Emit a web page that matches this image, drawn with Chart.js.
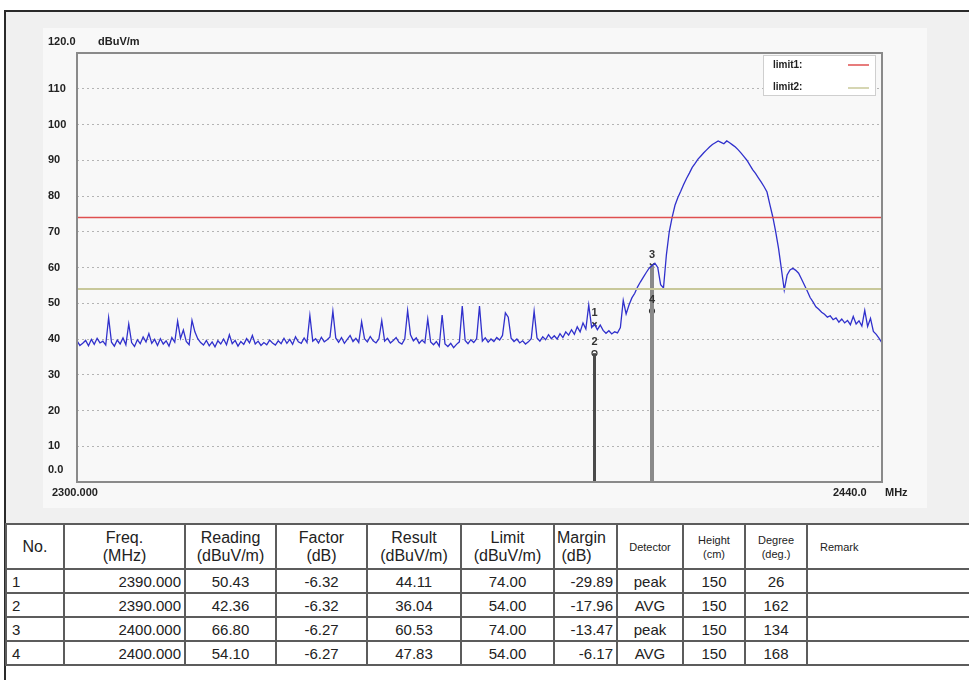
<!DOCTYPE html>
<html lang="en">
<head>
    <meta charset="UTF-8" />
    <title>Radiated Emission - Band Edge</title>
    <script src="https://cdn.jsdelivr.net/npm/chart.js"></script>
    <style>
        html, body {
            margin: 0;
            padding: 0;
            width: 969px;
            height: 680px;
            overflow: hidden;
            background: #fff;
            font-family: Arial, 'Liberation Sans', sans-serif;
        }
        #marco {
            position: absolute;
            left: 4px;
            top: 10px;
            width: 970px;
            height: 680px;
            border-left: 2px solid #2a2a2a;
            border-top: 2px solid #2a2a2a;
            background: linear-gradient(#f0f0f0 0, #f0f0f0 512px, #fff 512px);
        }
        #panel {
            position: absolute;
            left: 43px;
            top: 28px;
            width: 884px;
            height: 480px;
            background: #f8f8f8;
        }
        #tabla {
            position: absolute;
            left: 5px;
            top: 523px;
            width: 1010px;
            background: #fff;
            border-collapse: collapse;
            table-layout: fixed;
            color: #222;
            font-size: 15px;
        }
        #tabla th, #tabla td {
            border: 2px solid #5c5c5c;
            padding: 0;
            height: 22px;
            font-weight: normal;
            white-space: nowrap;
            overflow: hidden;
        }
        #tabla th {
            height: 43px;
            font-size: 16px;
            line-height: 18px;
            vertical-align: middle;
        }
        #tabla th.chico { font-size: 11px; line-height: 14px; }
        .izq { text-align: left; padding-left: 5px !important; }
        .der { text-align: right; padding-right: 3px !important; }
        .cen { text-align: center; }
    </style>
</head>
<body>
    <div id="marco"></div>
    <div id="panel">
        <canvas id="grafico" width="884" height="480"></canvas>
    </div>
    <table id="tabla"></table>

    <script>
        // barrido: 2300 a 2440 MHz, paso 0.5 MHz
        const freqInicio = 2300;
        const freqPaso = 0.5;
        const nivel = [
            39.5, 38.2, 38.8, 39.6, 38.1, 39.9, 38.5, 40.2, 38.9, 39.4,
            38.3, 46.0, 39.1, 38.0, 39.7, 38.6, 40.3, 38.4, 44.2, 39.0,
            37.9, 39.8, 38.7, 40.6, 39.2, 41.5, 38.8, 39.9, 38.2, 40.1,
            38.6, 39.5, 38.0, 40.4, 39.1, 45.0, 40.2, 42.5, 39.3, 38.4,
            45.2, 42.0, 40.1, 39.0, 38.3, 39.6, 38.1, 39.2, 37.8, 39.5,
            38.6, 40.0, 38.4, 41.2, 38.7, 39.6, 38.0, 39.3, 38.5, 40.1,
            38.9, 41.0, 38.6, 39.4, 38.2, 39.0, 38.4, 39.7, 38.9, 38.3,
            39.5, 38.7, 40.2, 38.8, 39.9, 38.5, 40.6, 39.2, 38.8, 40.3,
            39.0,
            46.6, 39.4, 40.1, 38.9, 40.5, 39.2, 39.8, 40.6, 47.8, 40.3,
            39.1, 40.4, 38.8, 39.9, 41.0, 39.3, 40.2, 39.0, 44.8, 40.1,
            39.2, 40.7, 39.5, 38.9, 40.0, 45.1, 39.4, 40.2, 38.9, 39.6,
            40.4, 39.1, 38.6, 40.0, 48.0, 41.2, 39.5, 40.3, 38.8, 39.7,
            38.9, 45.6, 39.2, 38.4, 39.3, 38.0, 46.7, 38.6, 37.9, 38.8,
            37.6, 38.5, 39.2, 49.2, 39.6, 38.7, 39.8, 39.0, 40.1, 49.2,
            39.4, 40.3, 39.1, 40.0, 39.3, 40.4, 39.7, 41.0, 47.3, 46.1,
            40.2, 39.3, 40.0, 38.9, 39.5, 38.6, 39.2, 40.1, 47.8, 40.3,
            39.4, 40.6, 39.8, 41.2, 40.1, 40.9, 40.0, 41.5, 40.4, 42.0,
            41.1, 42.6, 41.3, 43.4, 42.0, 44.5, 42.8, 49.5, 43.2, 44.1,
            42.6, 43.9, 42.4, 41.6, 42.3, 41.4, 42.0, 41.7, 43.2,
            50.8, 47.0, 49.5, 51.5, 52.8, 54.6, 56.0, 57.3, 58.6, 59.8,
            60.5, 61.2, 60.0, 55.2, 54.3,
            63.5, 70.0, 74.0, 77.4, 79.6, 81.3, 83.2, 84.9, 86.4, 88.0,
            89.1, 90.3, 91.2, 92.1, 92.9, 93.7, 94.4, 94.9, 95.4, 95.0,
            94.6, 95.4, 94.9, 94.3, 93.7, 92.9, 92.0, 91.0, 90.0, 88.7,
            87.4, 86.3, 85.1, 83.9, 82.6, 81.1, 77.6, 74.2, 70.1, 65.4,
            59.6, 53.7,
            57.9, 59.3, 59.8, 59.2, 58.4, 56.8, 55.1, 53.4, 51.6, 50.4,
            49.0, 48.3, 47.5, 46.9, 46.1, 46.5, 45.4, 45.9, 44.7, 45.6,
            44.5, 45.2, 44.0, 46.3, 44.2, 45.1, 43.6, 48.0, 43.5, 45.8,
            42.1, 41.3, 40.2, 38.9
        ];
        const limite1 = 74;
        const limite2 = 54;
        const ejeYTicks = [0, 10, 20, 30, 40, 50, 60, 70, 80, 90, 100, 110, 120];

        // marcadores / tabla
        const marcaNo = [1, 2, 3, 4];
        const marcaFreq = [2390.000, 2390.000, 2400.000, 2400.000];
        const lectura = [50.43, 42.36, 66.80, 54.10];
        const factor = [-6.32, -6.32, -6.27, -6.27];
        const resultado = [44.11, 36.04, 60.53, 47.83];
        const limite = [74.00, 54.00, 74.00, 54.00];
        const margen = [-29.89, -17.96, -13.47, -6.17];
        const detector = ['peak', 'AVG', 'peak', 'AVG'];
        const altura = [150, 150, 150, 150];
        const grados = [26, 162, 134, 168];

        const puntos = nivel.map((v, i) => ({ x: freqInicio + i * freqPaso, y: v }));
        const xMin = freqInicio;
        const xMax = freqInicio + (nivel.length - 1) * freqPaso;

        // tabla de resultados
        let html = '<colgroup>' + [58, 121, 91, 91, 94, 93, 63, 66, 62, 62, 209].map(w => `<col style="width:${w}px">`).join('') + '</colgroup>';
        html += '<tr><th class="cen" style="font-size:16px">No.</th><th class="cen">Freq.<br>(MHz)</th><th class="cen">Reading<br>(dBuV/m)</th>' +
            '<th class="cen">Factor<br>(dB)</th><th class="cen">Result<br>(dBuV/m)</th><th class="cen">Limit<br>(dBuV/m)</th>' +
            '<th class="izq" style="padding-left:2px!important">Margin<br>&nbsp;(dB)</th><th class="cen chico">Detector</th><th class="cen chico">Height<br>(cm)</th>' +
            '<th class="cen chico">Degree<br>(deg.)</th><th class="izq chico" style="padding-left:12px!important">Remark</th></tr>';
        marcaNo.forEach((n, i) => {
            html += `<tr>
                <td class="izq">${n}</td>
                <td class="der">${marcaFreq[i].toFixed(3)}</td>
                <td class="cen">${lectura[i].toFixed(2)}</td>
                <td class="cen">${factor[i].toFixed(2)}</td>
                <td class="cen">${resultado[i].toFixed(2)}</td>
                <td class="cen">${limite[i].toFixed(2)}</td>
                <td class="der">${margen[i].toFixed(2)}</td>
                <td class="cen">${detector[i]}</td>
                <td class="cen">${altura[i]}</td>
                <td class="cen">${grados[i]}</td>
                <td></td>
            </tr>`;
        });
        document.getElementById('tabla').innerHTML = html;

        // textos, marco del area y leyenda
        const extras = {
            id: 'extras',
            afterDraw(chart) {
                const ctx = chart.ctx;
                const a = chart.chartArea;
                const x = chart.scales.x;
                const y = chart.scales.y;
                ctx.save();

                // marcadores
                ctx.fillStyle = '#333';
                ctx.font = 'bold 11px Arial';
                ctx.textAlign = 'center';
                ctx.textBaseline = 'middle';
                marcaNo.forEach((n, i) => {
                    const px = x.getPixelForValue(marcaFreq[i]);
                    const py = y.getPixelForValue(resultado[i]);
                    ctx.fillText(String(n), px, py - 11);
                });

                // borde del area
                ctx.strokeStyle = '#8a8a8a';
                ctx.lineWidth = 2;
                ctx.strokeRect(a.left, a.top, a.right - a.left, a.bottom - a.top);

                // leyenda
                const lx = a.right - 119, ly = a.top + 2;
                ctx.fillStyle = '#fff';
                ctx.fillRect(lx, ly, 112, 40);
                ctx.strokeStyle = '#cfcfcf';
                ctx.lineWidth = 1;
                ctx.strokeRect(lx + 0.5, ly + 0.5, 112, 40);
                ctx.font = 'bold 10px Arial';
                ctx.textAlign = 'left';
                ctx.fillStyle = '#222';
                ctx.fillText('limit1:', lx + 10, ly + 10);
                ctx.fillText('limit2:', lx + 10, ly + 32);
                ctx.lineWidth = 1.5;
                ctx.strokeStyle = '#df5050';
                ctx.beginPath(); ctx.moveTo(lx + 85, ly + 10); ctx.lineTo(lx + 106, ly + 10); ctx.stroke();
                ctx.strokeStyle = '#c8c89a';
                ctx.beginPath(); ctx.moveTo(lx + 85, ly + 33); ctx.lineTo(lx + 106, ly + 33); ctx.stroke();

                // textos de ejes
                ctx.fillStyle = '#222';
                ctx.font = 'bold 11px Arial';
                ctx.fillText('120.0', 5, a.top - 11);
                ctx.fillText('dBuV/m', 55, a.top - 11);
                ctx.fillText('0.0', 5, a.bottom - 12);
                ctx.fillText('2300.000', 9, a.bottom + 11);
                ctx.fillText('2440.0', a.right - 49, a.bottom + 11);
                ctx.fillText('MHz', a.right + 3, a.bottom + 11);
                ctx.restore();
            }
        };

        new Chart(document.getElementById('grafico'), {
            type: 'line',
            data: {
                datasets: [
                    {
                        label: 'limit1',
                        data: [{ x: xMin, y: limite1 }, { x: xMax, y: limite1 }],
                        borderColor: '#df5050',
                        borderWidth: 1.5,
                        pointRadius: 0
                    },
                    {
                        label: 'limit2',
                        data: [{ x: xMin, y: limite2 }, { x: xMax, y: limite2 }],
                        borderColor: '#c8c89a',
                        borderWidth: 2,
                        pointRadius: 0
                    },
                    {
                        label: 'trace',
                        data: puntos,
                        borderColor: '#3030cc',
                        borderWidth: 1.3,
                        pointRadius: 0,
                        tension: 0
                    },
                    {
                        label: 'm2390',
                        data: [{ x: marcaFreq[0], y: 0 }, { x: marcaFreq[1], y: resultado[1] }],
                        borderColor: '#4a4a4a',
                        borderWidth: 3,
                        pointRadius: 0
                    },
                    {
                        label: 'm2400',
                        data: [{ x: marcaFreq[2], y: 0 }, { x: marcaFreq[2], y: resultado[2] }],
                        borderColor: '#8a8a8a',
                        borderWidth: 4,
                        pointRadius: 0
                    },
                    {
                        label: 'picos',
                        data: [0, 2].map(i => ({ x: marcaFreq[i], y: resultado[i] })),
                        showLine: false,
                        pointStyle: 'crossRot',
                        pointRadius: 3,
                        borderColor: '#333',
                        borderWidth: 1.5
                    },
                    {
                        label: 'promedios',
                        data: [1, 3].map(i => ({ x: marcaFreq[i], y: resultado[i] })),
                        showLine: false,
                        pointStyle: 'circle',
                        pointRadius: 2.5,
                        backgroundColor: '#fff',
                        borderColor: '#333',
                        borderWidth: 1.2
                    }
                ]
            },
            options: {
                responsive: false,
                animation: false,
                devicePixelRatio: 1,
                layout: { padding: { left: 5, top: 25, right: 45, bottom: 26 } },
                plugins: { legend: { display: false }, tooltip: { enabled: false } },
                scales: {
                    x: {
                        type: 'linear',
                        min: xMin,
                        max: xMax,
                        display: false
                    },
                    y: {
                        min: ejeYTicks[0],
                        max: ejeYTicks[ejeYTicks.length - 1],
                        afterFit: s => { s.width = 29; },
                        afterBuildTicks: s => { s.ticks = ejeYTicks.map(v => ({ value: v })); },
                        border: { display: false, dash: [2, 3] },
                        grid: { color: '#b4b4b4', lineWidth: 1, drawTicks: false },
                        ticks: {
                            crossAlign: 'far',
                            color: '#222',
                            font: { family: 'Arial', size: 11, weight: 'bold' },
                            callback: v => (v === 0 || v === 120) ? '' : v
                        }
                    }
                }
            },
            plugins: [extras]
        });
    </script>
</body>
</html>
